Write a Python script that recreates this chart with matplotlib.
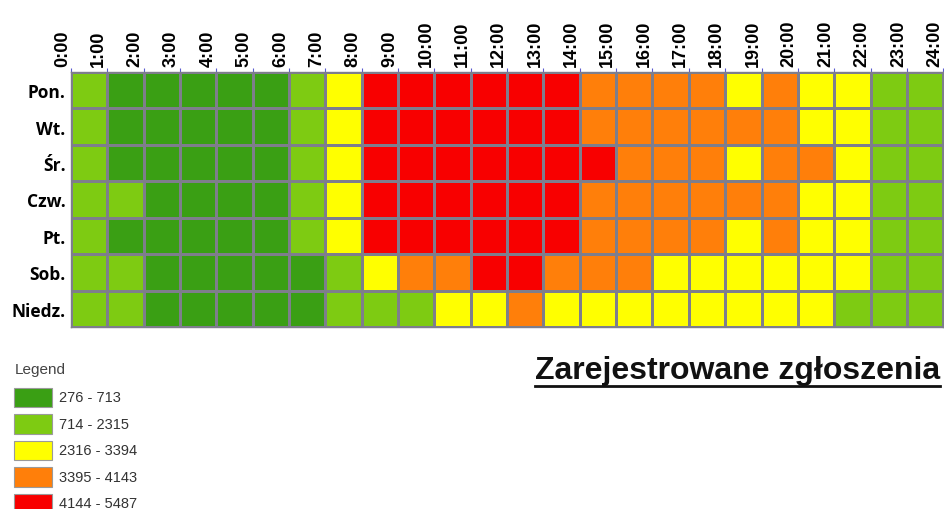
import numpy as np
import matplotlib

matplotlib.use("Agg")
import matplotlib.pyplot as plt
from matplotlib.colors import ListedColormap, BoundaryNorm
from matplotlib.patches import Rectangle

# --- Data ---------------------------------------------------------------------
hours = [f"{h}:00" for h in range(25)]
days = ["Pon.", "Wt.", "Śr.", "Czw.", "Pt.", "Sob.", "Niedz."]

# class of each hour (0..4 -> legend ranges below)
pon = [1, 0, 0, 0, 0, 0, 1, 2, 4, 4, 4, 4, 4, 4, 3, 3, 3, 3, 2, 3, 2, 2, 1, 1]
wt = [1, 0, 0, 0, 0, 0, 1, 2, 4, 4, 4, 4, 4, 4, 3, 3, 3, 3, 3, 3, 2, 2, 1, 1]
sr = [1, 0, 0, 0, 0, 0, 1, 2, 4, 4, 4, 4, 4, 4, 4, 3, 3, 3, 2, 3, 3, 2, 1, 1]
czw = [1, 1, 0, 0, 0, 0, 1, 2, 4, 4, 4, 4, 4, 4, 3, 3, 3, 3, 3, 3, 2, 2, 1, 1]
pt = [1, 0, 0, 0, 0, 0, 1, 2, 4, 4, 4, 4, 4, 4, 3, 3, 3, 3, 2, 3, 2, 2, 1, 1]
sob = [1, 1, 0, 0, 0, 0, 0, 1, 2, 3, 3, 4, 4, 3, 3, 3, 2, 2, 2, 2, 2, 2, 1, 1]
niedz = [1, 1, 0, 0, 0, 0, 0, 1, 1, 1, 2, 2, 3, 2, 2, 2, 2, 2, 2, 2, 2, 1, 1, 1]

legend_labels = ["276 - 713", "714 - 2315", "2316 - 3394", "3395 - 4143", "4144 - 5487"]
colors = ["#3a9f14", "#7ecb12", "#ffff00", "#ff7f0a", "#f80000"]

grid = np.array([pon, wt, sr, czw, pt, sob, niedz])

# --- Figure -------------------------------------------------------------------
fig = plt.figure(figsize=(9.44, 5.10), dpi=100)
ax = fig.add_axes([0.0752, 0.357, 0.924, 0.500])

cmap = ListedColormap(colors)
norm = BoundaryNorm(np.arange(-0.5, 5.5, 1), cmap.N)
ax.pcolormesh(np.arange(25), np.arange(8), grid, cmap=cmap, norm=norm,
              edgecolor="#7e7e8c", linewidth=0.9)
ax.set_xlim(0, 24)
ax.set_ylim(7, 0)

ax.xaxis.tick_top()
ax.set_xticks(np.arange(25))
ax.set_xticklabels(hours, rotation=90, fontsize=13, fontweight="bold",
                   family="Liberation Sans", va="bottom", ha="right")
ax.tick_params(axis="x", length=3, color="#5a5ad0", pad=1)
ax.set_yticks(np.arange(7) + 0.5)
ax.set_yticklabels(days, fontsize=12.5, fontweight="bold", family="Open Sans")
ax.tick_params(axis="y", length=0, pad=4)
for s in ax.spines.values():
    s.set_color("#7e7e8c")
    s.set_linewidth(1.0)

# --- Legend -------------------------------------------------------------------
fig.text(0.016, 0.275, "Legend", fontsize=11, color="#444444",
         family="Liberation Sans", va="center")
y0 = 0.219
for i, (lab, c) in enumerate(zip(legend_labels, colors)):
    y = y0 - i * 0.052
    fig.patches.append(Rectangle((0.015, y - 0.019), 0.040, 0.038,
                                 transform=fig.transFigure, fc=c,
                                 ec="#9a9a9a", lw=0.8))
    fig.text(0.063, y, lab, fontsize=10.5, color="#333333",
             family="Liberation Sans", va="center")

# --- Title (underlined) ---------------------------------------------------------
title = fig.text(0.996, 0.256, "Zarejestrowane zgłoszenia", fontsize=23,
                 fontweight="bold", family="Liberation Sans",
                 ha="right", va="baseline", color="#111111")
fig.canvas.draw()
bb = title.get_window_extent(fig.canvas.get_renderer()).transformed(fig.transFigure.inverted())
fig.add_artist(plt.Line2D([bb.x0, bb.x1], [0.241, 0.241], transform=fig.transFigure,
                          color="#111111", lw=2.0))

fig.savefig("out.png", dpi=100, facecolor="white")
